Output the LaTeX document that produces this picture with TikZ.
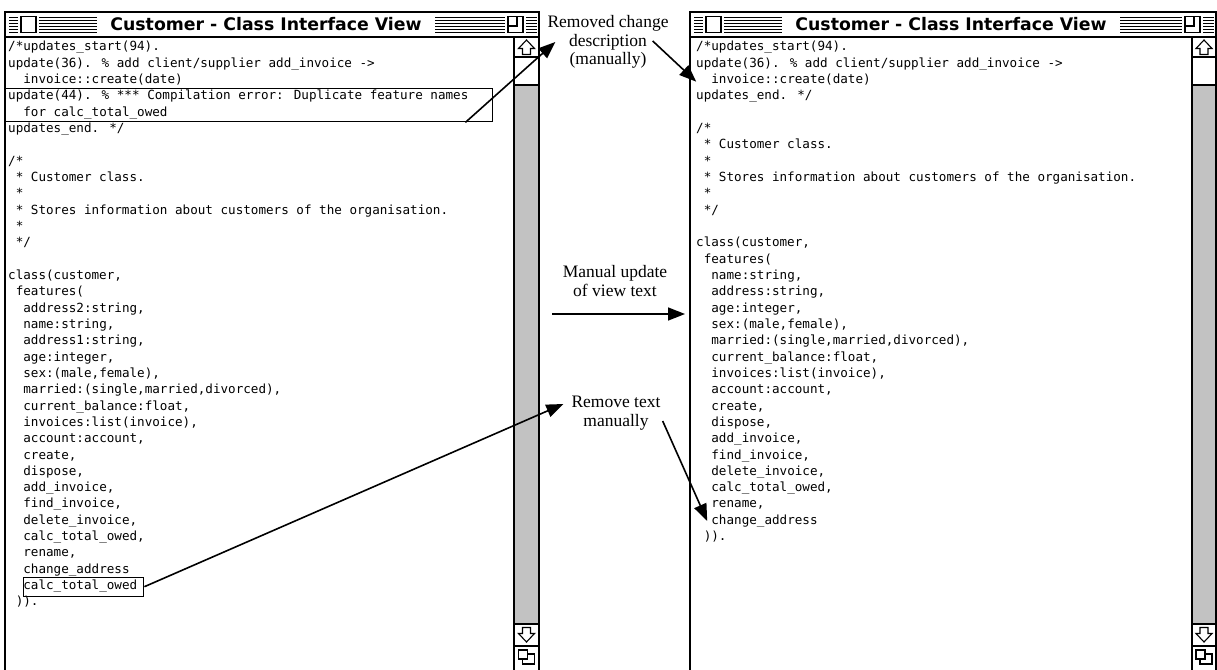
\documentclass[tikz,border=0pt]{standalone}
\usepackage{fontspec}
\setmainfont{Liberation Serif}
\newfontfamily\codefont{DejaVu Sans Mono}
\newfontfamily\barfont{DejaVu Sans}
\usetikzlibrary{arrows.meta,calc}

% code text grid: character width, first baseline, line pitch
\def\cw{7.6}
\def\ybase{51}
\def\lsp{16.32}

% one line of listing text: name, left x, line index, indent (chars), text
\newcommand\codeln[5]{\node[codeline] (#1) at ({#2+#4*\cw},{\ybase+#3*\lsp}) {#5};}

% a classic window: left x, right x, scroll bar left x, name prefix
\newcommand\macwin[4]{%
  \begin{scope}
    \pgfmathsetmacro\sbc{(#3+#2)/2}
    % scroll track
    \fill[track] (#3,85) rectangle (#2,624);
    % frame and title bar
    \draw[winline] (#1,700) -- (#1,12) -- (#2,12) -- (#2,700);
    \draw[winline] (#1,37) -- (#2,37);
    \foreach \yy in {17,20,...,32} \draw[stripe] (#1+4,\yy) -- (#2-2,\yy);
    % close box
    \fill[white] (#1+13,14) rectangle (#1+34,35);
    \draw[boxline] (#1+16,16.5) rectangle (#1+31,32.5);
    % title
    \node[titlelbl] (#4title) at (#1+261,24.5) {Customer - Class Interface View};
    % zoom box
    \fill[white] (#2-34,14) rectangle (#2-13,35);
    \draw[boxline] (#2-31,16.5) rectangle (#2-16,32.5);
    \draw[boxline] (#2-31,26) -| (#2-22,16.5);
    % scroll bar
    \draw[sbline] (#3,37) -- (#3,700);
    \draw[line width=2pt] (#3,57) -- (#2,57);
    \draw[sbline] (#3,85) -- (#2,85);
    \draw[sbline] (#3,624) -- (#2,624);
    \draw[sbline] (#3,646) -- (#2,646);
    \draw[icon] (\sbc,40) -- (\sbc+8,48.5) -- (\sbc+4,48.5) -- (\sbc+4,54.5)
      -- (\sbc-4,54.5) -- (\sbc-4,48.5) -- (\sbc-8,48.5) -- cycle;
    \draw[icon] (\sbc,642) -- (\sbc+8,633.5) -- (\sbc+4,633.5) -- (\sbc+4,627.5)
      -- (\sbc-4,627.5) -- (\sbc-4,633.5) -- (\sbc-8,633.5) -- cycle;
    \draw[icon,fill=white] (\sbc-4,654) rectangle (\sbc+8,664);
    \draw[icon,fill=white] (\sbc-8,650) rectangle (\sbc+1,659);
  \end{scope}}

\begin{document}
\begin{tikzpicture}[x=1pt,y=-1pt,
  codeline/.style={anchor=base west,inner sep=0pt,font=\codefont\fontsize{12.6}{15}\selectfont},
  lbl/.style={align=center,inner sep=0pt,font=\fontsize{17.5}{18.5}\selectfont},
  titlelbl/.style={fill=white,inner xsep=13pt,inner ysep=0pt,minimum height=21pt,
    font=\barfont\bfseries\fontsize{17.3}{20}\selectfont},
  winline/.style={line width=1.8pt},
  sbline/.style={line width=1.4pt},
  stripe/.style={line width=0.9pt},
  boxline/.style={line width=1.2pt},
  icon/.style={line width=1.1pt,line join=miter},
  track/.style={fill=black!24},
  selbox/.style={draw,line width=1.4pt,inner sep=0pt,anchor=north west},
  conn/.style={line width=1.6pt,-{Triangle[length=17pt,width=13pt]}}
]
\useasboundingbox (0,0) rectangle (1217,669);
\clip (0,0) rectangle (1217,669);
\fill[white] (0,0) rectangle (1217,669);

\macwin{5}{539}{514}{lw}
\macwin{690}{1216}{1192}{rw}

% listing before the edit
\codeln{L0}{8}{0}{0}{/*updates\_start(94).}
\codeln{L1}{8}{1}{0}{update(36). \% add client/supplier add\_invoice ->}
\codeln{L2}{8}{2}{2}{invoice::create(date)}
\codeln{L3}{8}{3}{0}{update(44). \% *** Compilation error: Duplicate feature names}
\codeln{L4}{8}{4}{2}{for calc\_total\_owed}
\codeln{L5}{8}{5}{0}{updates\_end. */}
\codeln{L7}{8}{7}{0}{/*}
\codeln{L8}{8}{8}{1}{* Customer class.}
\codeln{L9}{8}{9}{1}{*}
\codeln{L10}{8}{10}{1}{* Stores information about customers of the organisation.}
\codeln{L11}{8}{11}{1}{*}
\codeln{L12}{8}{12}{1}{*/}
\codeln{L14}{8}{14}{0}{class(customer,}
\codeln{L15}{8}{15}{1}{features(}
\codeln{L16}{8}{16}{2}{address2:string,}
\codeln{L17}{8}{17}{2}{name:string,}
\codeln{L18}{8}{18}{2}{address1:string,}
\codeln{L19}{8}{19}{2}{age:integer,}
\codeln{L20}{8}{20}{2}{sex:(male,female),}
\codeln{L21}{8}{21}{2}{married:(single,married,divorced),}
\codeln{L22}{8}{22}{2}{current\_balance:float,}
\codeln{L23}{8}{23}{2}{invoices:list(invoice),}
\codeln{L24}{8}{24}{2}{account:account,}
\codeln{L25}{8}{25}{2}{create,}
\codeln{L26}{8}{26}{2}{dispose,}
\codeln{L27}{8}{27}{2}{add\_invoice,}
\codeln{L28}{8}{28}{2}{find\_invoice,}
\codeln{L29}{8}{29}{2}{delete\_invoice,}
\codeln{L30}{8}{30}{2}{calc\_total\_owed,}
\codeln{L31}{8}{31}{2}{rename,}
\codeln{L32}{8}{32}{2}{change\_address}
\codeln{L33}{8}{33}{2}{calc\_total\_owed}
\codeln{L34}{8}{34}{1}{)).}

% listing after the edit
\codeln{R0}{696}{0}{0}{/*updates\_start(94).}
\codeln{R1}{696}{1}{0}{update(36). \% add client/supplier add\_invoice ->}
\codeln{R2}{696}{2}{2}{invoice::create(date)}
\codeln{R3}{696}{3}{0}{updates\_end. */}
\codeln{R5}{696}{5}{0}{/*}
\codeln{R6}{696}{6}{1}{* Customer class.}
\codeln{R7}{696}{7}{1}{*}
\codeln{R8}{696}{8}{1}{* Stores information about customers of the organisation.}
\codeln{R9}{696}{9}{1}{*}
\codeln{R10}{696}{10}{1}{*/}
\codeln{R12}{696}{12}{0}{class(customer,}
\codeln{R13}{696}{13}{1}{features(}
\codeln{R14}{696}{14}{2}{name:string,}
\codeln{R15}{696}{15}{2}{address:string,}
\codeln{R16}{696}{16}{2}{age:integer,}
\codeln{R17}{696}{17}{2}{sex:(male,female),}
\codeln{R18}{696}{18}{2}{married:(single,married,divorced),}
\codeln{R19}{696}{19}{2}{current\_balance:float,}
\codeln{R20}{696}{20}{2}{invoices:list(invoice),}
\codeln{R21}{696}{21}{2}{account:account,}
\codeln{R22}{696}{22}{2}{create,}
\codeln{R23}{696}{23}{2}{dispose,}
\codeln{R24}{696}{24}{2}{add\_invoice,}
\codeln{R25}{696}{25}{2}{find\_invoice,}
\codeln{R26}{696}{26}{2}{delete\_invoice,}
\codeln{R27}{696}{27}{2}{calc\_total\_owed,}
\codeln{R28}{696}{28}{2}{rename,}
\codeln{R29}{696}{29}{2}{change\_address}
\codeln{R30}{696}{30}{1}{)).}

% selections in the old listing
\node[selbox,minimum width=487pt,minimum height=33pt] (sel1) at (5,88) {};
\node[selbox,minimum width=120pt,minimum height=19pt] (sel2) at (23,576.5) {};

% annotations
\node[lbl] (rcd) at (608,42) {Removed change\\description\\(manually)};
\node[lbl] (mu) at (615,281) {Manual update\\of view text};
\node[lbl] (rtm) at (616,413) {Remove text\\manually};
\coordinate (mstart) at (552,314);
\coordinate (mend) at (685,314);

\draw[conn] ($(sel1.south east)+(-28,0)$) -- ($(rcd.west)+(8,0)$);
\draw[conn] ($(rcd.east)+(-16,-1)$) -- ($(R2.west)+(-15,2)$);
\draw[conn] (mstart) -- (mend);
\draw[conn] (sel2.east) -- ($(rtm.west)+(-8,-9)$);
\draw[conn] ($(rtm.east)+(2,8)$) -- ($(R29.west)+(-4,0)$);
\end{tikzpicture}
\end{document}
